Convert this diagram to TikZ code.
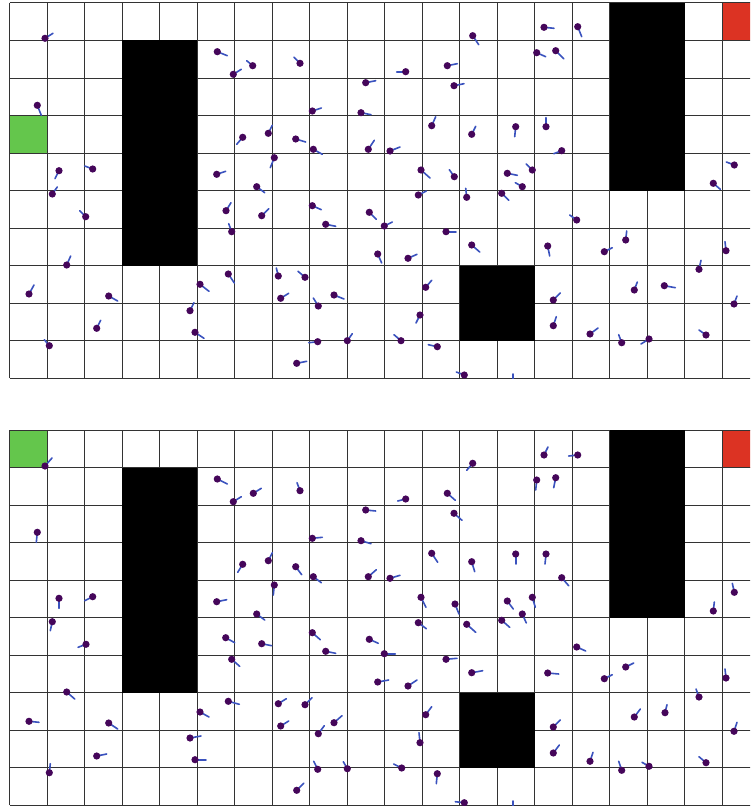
\documentclass[tikz,border=0pt]{standalone}
\definecolor{agdotc}{HTML}{45065A}
\definecolor{aglinec}{HTML}{3A52BE}
\definecolor{goalg}{HTML}{64C64C}
\definecolor{startr}{HTML}{DC3323}
\tikzset{
  agline/.style={draw=aglinec,line width=1.6pt,line cap=round},
  agdot/.style={fill=agdotc},
  gridline/.style={draw=black!80,line width=1pt}
}
\newcommand\drawgrid[2]{%
  \begin{scope}[shift={(9.5,#1)}]
    \fill[goalg] (0,#2*37.5) rectangle (37.5,#2*37.5+37.5);
    \fill[startr] (19*37.5,0) rectangle (20*37.5,37.5);
    \foreach \i in {0,...,20} \draw[gridline] (\i*37.5,0) -- (\i*37.5,375);
    \foreach \j in {0,...,10} \draw[gridline] (0,\j*37.5) -- (750,\j*37.5);
    \fill[black] (3*37.5,1*37.5) rectangle (5*37.5,7*37.5);
    \fill[black] (16*37.5,0) rectangle (18*37.5,5*37.5);
    \fill[black] (12*37.5,7*37.5) rectangle (14*37.5,9*37.5);
  \end{scope}}
\newcommand\agents[2]{%
  \begin{scope}
    \clip (9.5,#1) rectangle (759.5,#1+375);
    \foreach \x/\y/\u/\v in {#2}{
      \draw[agline] (\x,\y) -- ++(\u,\v);
      \fill[agdot] (\x,\y) circle[radius=3.6pt];
    }
  \end{scope}}
\begin{document}
\begin{tikzpicture}[x=1pt,y=-1pt]
\useasboundingbox (0,0) rectangle (750,808);
\clip (0,0) rectangle (750,808);
\fill[white] (0,0) rectangle (750,808);
\drawgrid{3}{3}
\drawgrid{430}{0}
\agents{3}{45/38.3/8/-5, 217.3/51.7/10/4, 233.3/74.3/8/-5, 37.3/105.3/4/10, 242.7/137.3/-6/7,
59/170.7/-4/8, 92.7/169/-8/-3, 216.7/174.3/9/-3, 52.3/194/5/-7, 252.7/65.7/-6/-5,
300/63.3/-6/-6, 472.7/35.7/6/9, 447.3/65.7/10/-2, 405.7/71.7/-9/0, 365.7/82.7/10/-2,
454/85.7/10/-2, 312.3/111/9/-3, 361/112.7/10/2, 431.7/125.7/4/-9, 471.7/134.3/4/-8,
268.3/133.3/4/-8, 295.7/139/10/3, 313.3/149.3/9/5, 368.3/149.3/6/-9, 390/151/10/-4,
274.3/157.7/-4/10, 421/170/9/8, 454.3/176.7/-5/-7, 256.7/186.7/8/6, 544/27.3/10/1,
577.7/26.7/4/10, 536.7/52.7/9/4, 555.7/50.7/8/8, 515.7/126.7/-1/10, 546/126.7/0/-9,
561.7/150.7/-8/3, 507.3/173.3/10/2, 532.3/170/-6/-6, 522.3/186.7/-7/-4, 734.3/165/-8/-3,
713.3/183.3/7/6, 85.7/216.7/-6/-6, 226/210.7/5/-8, 231.7/231.7/-3/-8, 66.7/265/4/-9,
29/294/5/-9, 108.7/296/9/5, 200/284.3/9/7, 228.3/274/6/9, 190/310.7/4/-8,
96.7/328.3/4/-8, 195/332.3/9/6, 49.3/345.7/-5/-6, 261.7/215.7/7/-7, 312.3/205.7/9/4,
325.7/224.3/10/2, 369.3/212.3/7/7, 384.3/226/8/-4, 418.3/195/8/-4, 466.7/197.3/-1/-9,
446/231.7/10/0, 471.7/245/8/7, 377.7/254/4/9, 408/258.3/9/-4, 278.3/276/-2/-8,
305/277.3/-7/-6, 280.7/298.3/8/-5, 334/295/10/4, 318.3/306/-5/-8, 425.7/287.3/6/-7,
420/315/-4/8, 317.7/341.7/-9/1, 347.3/340.7/5/-7, 401/340.7/-7/-6, 437.3/346.7/-9/-2,
296.7/363.3/10/-2, 464.3/375/-8/-3, 501.7/193.3/7/7, 576.7/220/-7/-5, 547.7/246/2/10,
604.3/251.7/8/-4, 625.7/240/1/-9, 726/250.7/-1/-9, 699/269.3/2/-9, 634.3/290/3/-8,
664.3/285.7/11/2, 553.3/300/7/-7, 734/304/3/-8, 553.3/325.7/3/-9, 590/334/8/-6,
621.7/342.7/-3/-8, 649/339/-8/5, 706/335/-7/-5, 513/384/0/-10}
\agents{430}{45/466/7/-8, 217.3/479/10/5, 233.3/501.7/8/-5, 37.3/532.3/-1/10, 242.7/564.3/-5/8,
59/598.3/0/10, 92.7/596.7/-8/4, 216.7/601.7/10/-2, 253.3/493.3/8/-5, 300/490.7/-3/-8,
472.7/463.3/-6/7, 447.3/493.3/8/7, 405.7/499/-8/2, 365.7/510/10/1, 454/513.3/8/7,
312.3/538.3/10/-1, 361/540.7/10/3, 431.7/553.3/6/9, 471.7/561.7/3/10, 268.3/560.7/4/-8,
295.7/566.7/6/8, 313.3/576.7/8/6, 368.3/576.7/8/-7, 390/578.3/10/-3, 274.3/585/-1/10,
421/597.3/5/10, 455/604/4/10, 256.7/614/8/6, 544/455/4/-8, 577.7/455/-9/1,
536.7/480/-1/10, 555.7/477.7/-2/10, 515.7/554/0/10, 546/554/-1/10, 561.7/577.7/7/8,
507.3/601/6/8, 532.3/597.3/3/10, 522.3/614/4/9, 734.3/592.3/-2/-9, 713.3/611/1/-9,
52.3/621.7/-2/9, 86/644.3/-8/3, 225.7/637.7/9/5, 231.7/659.3/8/7, 66.7/692/8/7,
29/721.3/10/1, 108.7/723/9/6, 200/712/9/5, 228.3/701.3/11/3, 190/738/11/-2,
96.7/756/10/-2, 195/759.7/11/0, 49.3/772.7/1/-9, 261.7/643.7/10/2, 312.3/632.7/8/7,
325.7/651.3/10/2, 369.3/639.3/9/4, 384.3/653.7/11/0, 418.3/622.7/8/6, 466.7/624.3/9/8,
446/659.3/11/-1, 471.7/672.7/11/-2, 377.7/682/11/-2, 408/686/9/-6, 278.3/703.7/8/-5,
305/704.7/7/-7, 280.7/726/8/-5, 334/722.7/8/-7, 318.3/733.7/6/-8, 425.7/714.7/6/-8,
420/742.7/-1/-10, 317.7/769.3/-4/-8, 347.3/768.7/-4/-7, 401.7/768/-8/-4, 437.3/773.7/-1/10,
296.7/790.3/7/-7, 464.3/802.7/-9/-1, 501.7/620.3/8/7, 576.7/647/9/4, 547.7/673/11/1,
604.3/678.7/8/-4, 625.7/667/8/-4, 726/678/-1/-9, 699/697/-3/-8, 634.3/717/6/-8,
665/712.7/2/-8, 553.3/727/7/-7, 734/731.3/3/-9, 553.3/753/6/-8, 590/761.3/3/-9,
621.7/770.3/-3/-9, 649/766.3/-7/-4, 706/762.7/-7/-6, 513/811/0/-10}
\end{tikzpicture}
\end{document}
